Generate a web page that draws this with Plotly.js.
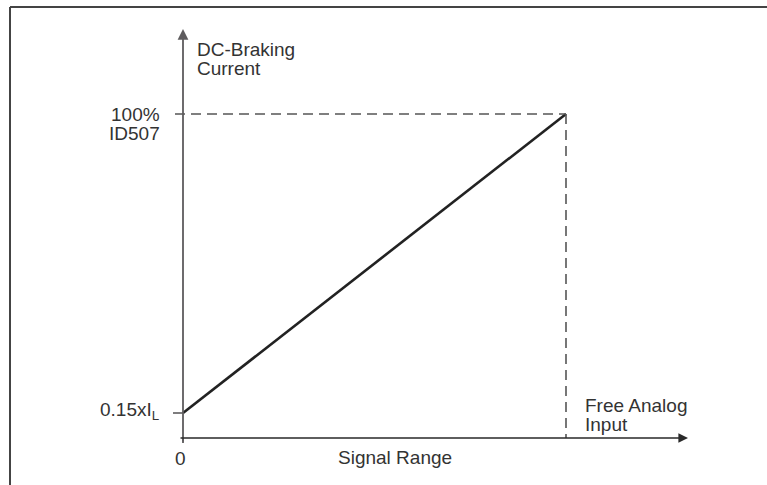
<!DOCTYPE html>
<html>
<head>
<meta charset="utf-8">
<script src="https://cdn.plot.ly/plotly-3.0.1.min.js"></script>
<style>html,body{margin:0;padding:0;background:#fff;}#chart{width:767px;height:485px;}</style>
</head>
<body>
<div id="chart"></div>
<script>
// ---- data ----
const signalX = [0, 1];            // signal range: 0 .. 100 % of free analog input
const brakingY = [0.15, 1];        // DC-braking current: 0.15 x IL .. 100 % ID507
const yTickVals = [0.15, 1];
const yTickText = ["0.15xI<sub>L</sub>", "100%<br>ID507"];
const xTickVals = [0];
const xTickText = ["0"];
const xTitle = "Signal Range";
const yTitle = "DC-Braking<br>Current";
const endLabel = "Free Analog<br>Input";

// ---- layout constants ----
const W = 767, H = 485;
const xPx0 = 183, xPx1 = 566;           // pixel of x=0 and x=1
const yPxLow = 413, yPxHigh = 114;      // pixel of y=0.15 and y=1
const kx = (xPx1 - xPx0) / (signalX[1] - signalX[0]);
const ky = (yPxLow - yPxHigh) / (brakingY[1] - brakingY[0]);
const xr = [-xPx0 / kx, (W - xPx0) / kx];
const yTop = brakingY[1] + yPxHigh / ky;
const yr = [yTop - H / ky, yTop];
const px2x = p => (p - xPx0) / kx;
const px2y = p => yTop - p / ky;
const y2px = v => (yTop - v) * ky;

const axisY = px2y(438);
const axisGray = "#5e5c5e";
const txt = "#333";
const fontMain = "Liberation Sans, Arial, sans-serif";
const FS = 19, LINE = 19;

const shapes = [];
// frame
shapes.push({type:"line", xref:"paper", yref:"paper", x0:10/W, x1:1, y0:1-7/H, y1:1-7/H, line:{color:"#444", width:2}});
shapes.push({type:"line", xref:"paper", yref:"paper", x0:10/W, x1:10/W, y0:1-7/H, y1:0, line:{color:"#444", width:2}});
// dashed guides
shapes.push({type:"line", x0:px2x(175), x1:signalX[1], y0:brakingY[1], y1:brakingY[1], line:{color:"#555", width:1.6, dash:"10px,6px"}});
shapes.push({type:"line", x0:signalX[1], x1:signalX[1], y0:brakingY[1], y1:axisY, line:{color:"#555", width:1.6, dash:"10px,6px"}});
// y tick at low value
shapes.push({type:"line", x0:px2x(173), x1:0, y0:yTickVals[0], y1:yTickVals[0], line:{color:axisGray, width:1.6}});
// x tick
xTickVals.forEach(v => shapes.push({type:"line", x0:v, x1:v, y0:axisY, y1:px2y(443), line:{color:axisGray, width:1.8}}));

const annotations = [];
// add a multi-line label with tight leading; capMidPx = pixel y of first line's cap centre
function label(text, xPx, capMidPx, xanchor) {
  text.split("<br>").forEach((ln, i) => {
    annotations.push({x:px2x(xPx), y:px2y(capMidPx + i*LINE + 2), xref:"x", yref:"y",
      xanchor:xanchor, yanchor:"middle", showarrow:false, text:ln,
      font:{family:fontMain, size:FS, color:txt}});
  });
}
// y axis arrow
annotations.push({x:0, y:px2y(29), ax:0, ay:px2y(443), xref:"x", yref:"y", axref:"x", ayref:"y", showarrow:true, arrowhead:2, arrowsize:1.2, arrowwidth:1.8, arrowcolor:axisGray, text:""});
// x axis arrow
annotations.push({x:px2x(688), y:axisY, ax:px2x(179), ay:axisY, xref:"x", yref:"y", axref:"x", ayref:"y", showarrow:true, arrowhead:2, arrowsize:1.2, arrowwidth:1.6, arrowcolor:"#2a2a2a", text:""});
// y tick labels
label(yTickText[0], 161, y2px(yTickVals[0]) - 4, "right");
label(yTickText[1], 162, y2px(yTickVals[1]) - 2, "right");
// x tick labels
xTickVals.forEach((v,i) => label(xTickText[i], 180, 456, "center"));
// titles / labels
label(xTitle, 336, 455, "left");
label(yTitle, 195, 47, "left");
label(endLabel, 583, 403, "left");

const trace = {x:signalX, y:brakingY, type:"scatter", mode:"lines", line:{color:"#222", width:2.6}, hoverinfo:"skip"};

const layout = {
  width:W, height:H, margin:{l:0, r:0, t:0, b:0},
  paper_bgcolor:"#fff", plot_bgcolor:"#fff", showlegend:false,
  xaxis:{range:xr, visible:false, fixedrange:true},
  yaxis:{range:yr, visible:false, fixedrange:true},
  shapes:shapes, annotations:annotations
};
Plotly.newPlot("chart", [trace], layout, {staticPlot:true, displayModeBar:false});
</script>
</body>
</html>
